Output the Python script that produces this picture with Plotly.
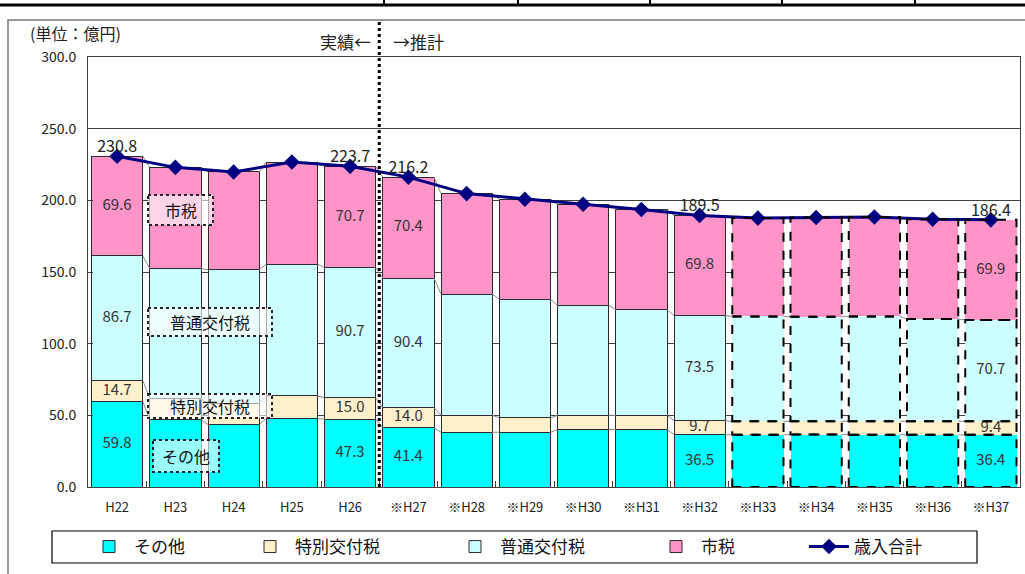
import plotly.graph_objects as go

# ---------------- data ----------------
categories = ["H22", "H23", "H24", "H25", "H26", "※H27", "※H28", "※H29",
              "※H30", "※H31", "※H32", "※H33", "※H34", "※H35", "※H36", "※H37"]
sonota = [59.8, 47.0, 43.6, 47.8, 47.3, 41.4, 38.2, 38.2, 40.1, 40.1, 36.5, 36.4, 36.6, 36.5, 36.4, 36.4]
tokubetsu = [14.7, 14.5, 14.9, 15.7, 15.0, 14.0, 11.8, 10.0, 9.9, 9.9, 9.7, 9.4, 9.3, 9.4, 9.4, 9.4]
futsu = [86.7, 90.8, 93.1, 92.0, 90.7, 90.4, 84.6, 82.9, 76.7, 73.7, 73.5, 73.2, 72.8, 73.1, 71.4, 70.7]
shizei = [69.6, 70.7, 68.2, 71.2, 70.7, 70.4, 70.1, 69.7, 70.6, 69.9, 69.8, 68.6, 69.3, 69.4, 69.6, 69.9]
total = [230.8, 223.0, 219.8, 226.7, 223.7, 216.2, 204.7, 200.8, 197.3, 193.6, 189.5, 187.6, 188.0, 188.4, 186.8, 186.4]
labeled_idx = [0, 4, 5, 10, 15]          # categories whose values are printed
dashed_from = 11                          # first category drawn with dashed outline
actual_until = 4                          # last "実績" category
y_ticks = [0, 50, 100, 150, 200, 250, 300]

series = [("その他", sonota, "#00FFFF", 106),
          ("特別交付税", tokubetsu, "#FFF0CC", 150),
          ("普通交付税", futsu, "#CCFFFF", 146),
          ("市税", shizei, "#FF94C8", 98)]

# ---------------- layout constants ----------------
W, H = 1025, 574
ML, MR, MT, MB = 88, 5, 57, 87
PW, PH = W - ML - MR, H - MT - MB
FONT = "Noto Sans CJK JP"
BARW = 0.88


def pxx(x):
    return (x - ML) / PW


def pxy(y):
    return (H - MB - y) / PH


xs = list(range(len(categories)))
fig = go.Figure()

# cumulative bases
bases = []
run = [0.0] * len(xs)
for name, vals, col, lw_ in series:
    bases.append(list(run))
    run = [r + v for r, v in zip(run, vals)]

# connector (series) lines between bars
for k, (name, vals, col, lw_) in enumerate(series):
    tops = [b + v for b, v in zip(bases[k], vals)]
    cx, cy = [], []
    for i in range(len(xs) - 1):
        cx += [xs[i] + BARW / 2, xs[i + 1] - BARW / 2, None]
        cy += [tops[i], tops[i + 1], None]
    fig.add_trace(go.Scatter(x=cx, y=cy, mode="lines", showlegend=False, hoverinfo="skip",
                             line=dict(color="#8a8a8a", width=1)))

# stacked bars
for k, (name, vals, col, legw) in enumerate(series):
    lw = [1 if i < dashed_from else 0 for i in xs]
    fig.add_trace(go.Bar(x=xs, y=vals, name=name, width=BARW, legendwidth=legw,
                         marker=dict(color=col, line=dict(color="#2a2a2a", width=lw))))

# dashed outlines for later estimate bars
shapes = []
for k, (name, vals, col, lw_) in enumerate(series):
    for i in xs:
        if i >= dashed_from:
            shapes.append(dict(type="rect", xref="x", yref="y",
                               x0=xs[i] - BARW / 2, x1=xs[i] + BARW / 2,
                               y0=bases[k][i], y1=bases[k][i] + vals[i],
                               line=dict(color="black", width=2, dash="dash"),
                               fillcolor="rgba(0,0,0,0)", layer="above"))

# segment value labels
for k, (name, vals, col, lw_) in enumerate(series):
    fig.add_trace(go.Scatter(
        x=[xs[i] for i in labeled_idx],
        y=[bases[k][i] + vals[i] / 2 for i in labeled_idx],
        text=[f"{vals[i]:.1f}" for i in labeled_idx],
        mode="text", textposition="middle center", showlegend=False, hoverinfo="skip",
        textfont=dict(family=FONT, size=15, color="#333333"), cliponaxis=False))

# total line
fig.add_trace(go.Scatter(x=xs, y=total, name="歳入合計", mode="lines+markers",
                         line=dict(color="#000080", width=3),
                         marker=dict(symbol="diamond", size=12, color="#000080")))
fig.add_trace(go.Scatter(
    x=[xs[i] for i in labeled_idx], y=[total[i] for i in labeled_idx],
    text=[f"{total[i]:.1f}" for i in labeled_idx], mode="text",
    textposition="top center", showlegend=False, hoverinfo="skip",
    textfont=dict(family=FONT, size=16, color="#222222"), cliponaxis=False))

# dotted separator between actual and estimate
sep = (actual_until + 0.5 + 0.5) / len(xs)
shapes.append(dict(type="line", xref="x domain", yref="paper", x0=sep, x1=sep,
                   y0=0, y1=pxy(20), line=dict(color="black", width=3, dash="dot")))

# in-chart series name boxes
boxes = [("市税", 148, 213, 195, 225),
         ("普通交付税", 148, 272, 308, 336),
         ("特別交付税", 148, 272, 394, 418),
         ("その他", 153, 219, 440, 472)]
annotations = []
for txt, x0, x1, y0, y1 in boxes:
    shapes.append(dict(type="rect", xref="paper", yref="paper",
                       x0=pxx(x0), x1=pxx(x1), y0=pxy(y0), y1=pxy(y1),
                       fillcolor="rgba(255,255,255,0.6)",
                       line=dict(color="#222222", width=2, dash="dot"), layer="above"))
    annotations.append(dict(text=txt, xref="paper", yref="paper",
                            x=pxx((x0 + x1) / 2), y=pxy((y0 + y1) / 2),
                            xanchor="center", yanchor="middle",
                            showarrow=False, font=dict(family=FONT, size=16, color="#111111")))

annotations += [
    dict(text="(単位：億円)", xref="paper", yref="paper", x=pxx(28), y=pxy(33),
         xanchor="left", yanchor="middle", showarrow=False,
         font=dict(family=FONT, size=16, color="#222222")),
    dict(text="実績←", xref="paper", yref="paper", x=pxx(373), y=pxy(42),
         xanchor="right", yanchor="middle", showarrow=False,
         font=dict(family=FONT, size=17, color="#222222")),
    dict(text="→推計", xref="paper", yref="paper", x=pxx(391), y=pxy(42),
         xanchor="left", yanchor="middle", showarrow=False,
         font=dict(family=FONT, size=17, color="#222222")),
]

# page decorations: table edge at top, chart frame, legend frame
shapes.append(dict(type="line", xref="paper", yref="paper", x0=pxx(0), x1=pxx(W),
                   y0=pxy(5), y1=pxy(5), line=dict(color="black", width=3)))
for vx in [384, 518, 650, 782, 915]:
    shapes.append(dict(type="line", xref="paper", yref="paper", x0=pxx(vx), x1=pxx(vx),
                       y0=pxy(0), y1=pxy(5), line=dict(color="black", width=2)))
shapes.append(dict(type="rect", xref="paper", yref="paper", x0=pxx(8), x1=pxx(W + 10),
                   y0=pxy(20), y1=pxy(H + 10), line=dict(color="#7a7a7a", width=1.5)))
shapes.append(dict(type="rect", xref="paper", yref="paper", x0=pxx(52), x1=pxx(977),
                   y0=pxy(531), y1=pxy(563), line=dict(color="black", width=1.2)))

fig.update_layout(
    width=W, height=H, margin=dict(l=ML, r=MR, t=MT, b=MB, autoexpand=False),
    paper_bgcolor="white", plot_bgcolor="white",
    barmode="stack", bargap=0.12,
    font=dict(family=FONT, color="#222222"),
    shapes=shapes, annotations=annotations,
    legend=dict(orientation="h", x=pxx(84), y=pxy(547), xanchor="left", yanchor="middle",
                itemwidth=40,
                font=dict(family=FONT, size=17, color="#111111"),
                bgcolor="rgba(0,0,0,0)", traceorder="normal"),
    showlegend=True,
)
fig.update_xaxes(range=[-0.5, len(xs) - 0.5], tickvals=xs, ticktext=categories,
                 ticks="", showgrid=False, showline=True, mirror=True,
                 linecolor="#404040", linewidth=1, zeroline=False,
                 tickfont=dict(family=FONT, size=13, color="#222222"),
                 ticklabelstandoff=8,
                 minor=dict(tickvals=[i + 0.5 for i in xs[:-1]], ticks="inside",
                            ticklen=6, tickcolor="#404040", showgrid=False))
fig.update_yaxes(range=[0, 300], tickvals=y_ticks, tickformat=".1f",
                 ticks="inside", ticklen=5, tickcolor="#404040",
                 showgrid=True, gridcolor="#404040", gridwidth=1,
                 showline=True, mirror=True, linecolor="#404040", linewidth=1,
                 zeroline=False, ticklabelstandoff=8,
                 tickfont=dict(family=FONT, size=14, color="#222222"))

fig.write_html("out.html", config={"displayModeBar": False},
               post_script="document.body.style.margin='0';")
